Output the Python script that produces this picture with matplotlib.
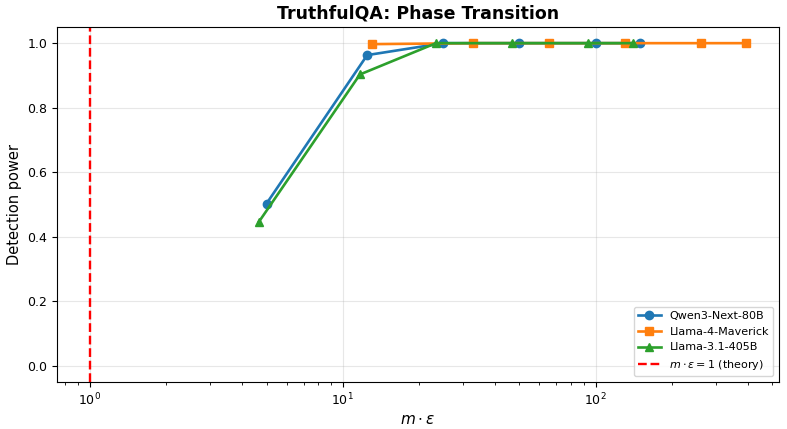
import matplotlib.pyplot as plt
import numpy as np

qwen_x = [5.0, 12.5, 25.0, 50.0, 100.0, 150.0]
qwen_y = [0.503, 0.963, 1.0, 1.0, 1.0, 1.0]

maverick_x = [13.1, 32.8, 65.6, 131.0, 262.0, 394.0]
maverick_y = [0.997, 1.0, 1.0, 1.0, 1.0, 1.0]

llama405_x = [4.67, 11.7, 23.4, 46.7, 93.4, 140.0]
llama405_y = [0.447, 0.903, 1.0, 1.0, 1.0, 1.0]

fig, ax = plt.subplots(figsize=(7.87, 4.29), dpi=100)
fig.subplots_adjust(left=0.0724, right=0.9898, top=0.937, bottom=0.1096)

ax.plot(qwen_x, qwen_y, "o-", color="#1f77b4", linewidth=1.9, markersize=6, label="Qwen3-Next-80B")
ax.plot(maverick_x, maverick_y, "s-", color="#ff7f0e", linewidth=1.9, markersize=6, label="Llama-4-Maverick")
ax.plot(llama405_x, llama405_y, "^-", color="#2ca02c", linewidth=1.9, markersize=6, label="Llama-3.1-405B")
ax.axvline(x=1.0, color="red", linestyle="--", linewidth=1.7, label=r"$m \cdot \varepsilon = 1$ (theory)")

ax.set_xscale("log")
ax.set_ylim(-0.05, 1.05)
ax.set_xlabel(r"$m \cdot \varepsilon$", fontsize=11, labelpad=3)
ax.set_ylabel("Detection power", fontsize=10.5)
ax.set_title("TruthfulQA: Phase Transition", fontsize=12.5, fontweight="bold")
ax.tick_params(labelsize=9)
ax.grid(True, alpha=0.3)
ax.legend(loc="lower right", fontsize=8)

plt.savefig("out.png")
